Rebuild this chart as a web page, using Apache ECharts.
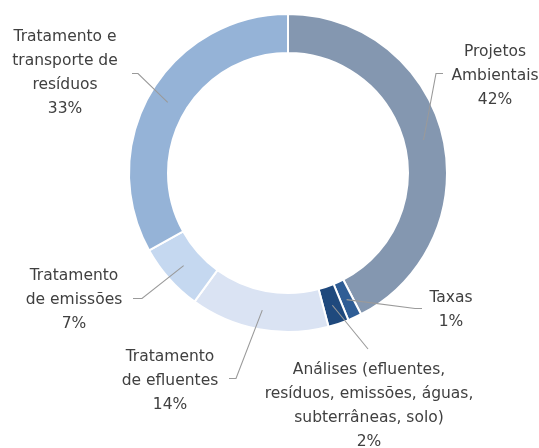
<!DOCTYPE html>
<html>
<head>
<meta charset="utf-8">
<script src="https://cdn.jsdelivr.net/npm/echarts@6/dist/echarts.min.js"></script>
<style>
  html, body { margin: 0; padding: 0; background: #ffffff; }
  #chart { width: 539px; height: 448px; }
</style>
</head>
<body>
<div id="chart"></div>
<script>
// Categories (clockwise from 12 o'clock) and their shares of total cost
const categories = [
  'Projetos\nAmbientais',
  'Taxas',
  'Análises (efluentes,\nresíduos, emissões, águas,\nsubterrâneas, solo)',
  'Tratamento\nde efluentes',
  'Tratamento\nde emissões',
  'Tratamento e\ntransporte de\nresíduos'
];
const shares = [42.4, 1.4, 2.1, 14.1, 6.9, 33.1];
const sliceColors = ['#8497B0', '#2F5D95', '#1F497D', '#DAE3F3', '#C5D8F0', '#95B3D7'];

// Ring geometry
const CX = 288, CY = 173, R_IN = 120, R_OUT = 159;

// Label block centres and leader-line elbows (the line runs from the
// middle of each slice to these points)
const labelPos = [
  { x: 495, y: 76,  elbow: [[436, 73.5], [443, 73.5]] },
  { x: 451, y: 310, elbow: [[415, 308.5], [422, 308.5]] },
  { x: 369, y: 406, elbow: [[368, 349]] },
  { x: 170, y: 381, elbow: [[236, 378.5], [229, 378.5]] },
  { x: 74,  y: 300, elbow: [[142, 298.5], [133, 298.5]] },
  { x: 65,  y: 73,  elbow: [[138, 73.5], [132, 73.5]] }
];

// Mid-ring point at each slice's middle angle
const total = shares.reduce((a, b) => a + b, 0);
const anchors = [];
let cum = 0;
shares.forEach(v => {
  const theta = (cum + v / 2) / total * 2 * Math.PI;
  const r = (R_IN + R_OUT) / 2;
  anchors.push([CX + r * Math.sin(theta), CY - r * Math.cos(theta)]);
  cum += v;
});

// Leader lines drawn above the ring so they reach into each slice
const leaderLines = labelPos.map((pos, i) => ({
  type: 'polyline',
  z: 100,
  silent: true,
  shape: { points: [anchors[i]].concat(pos.elbow) },
  style: { stroke: '#9A9A9A', lineWidth: 1.1, fill: null }
}));

const chart = echarts.init(document.getElementById('chart'), null, { renderer: 'canvas' });
chart.setOption({
  animation: false,
  backgroundColor: '#ffffff',
  graphic: leaderLines,
  series: [{
    type: 'pie',
    center: [CX, CY],
    radius: [R_IN, R_OUT],
    startAngle: 90,
    clockwise: true,
    avoidLabelOverlap: false,
    itemStyle: { borderColor: '#ffffff', borderWidth: 2 },
    label: {
      show: true,
      position: 'outside',
      color: '#404040',
      fontFamily: 'DejaVu Sans',
      fontSize: 15.5,
      lineHeight: 24,
      align: 'center',
      formatter: p => p.name + '\n' + Math.round(p.percent) + '%'
    },
    labelLine: { show: false },
    labelLayout: params => {
      const pos = labelPos[params.dataIndex];
      return { x: pos.x, y: pos.y, align: 'center', verticalAlign: 'middle' };
    },
    emphasis: { disabled: true },
    data: categories.map((name, i) => ({
      name: name,
      value: shares[i],
      itemStyle: { color: sliceColors[i] }
    }))
  }]
});
</script>
</body>
</html>
